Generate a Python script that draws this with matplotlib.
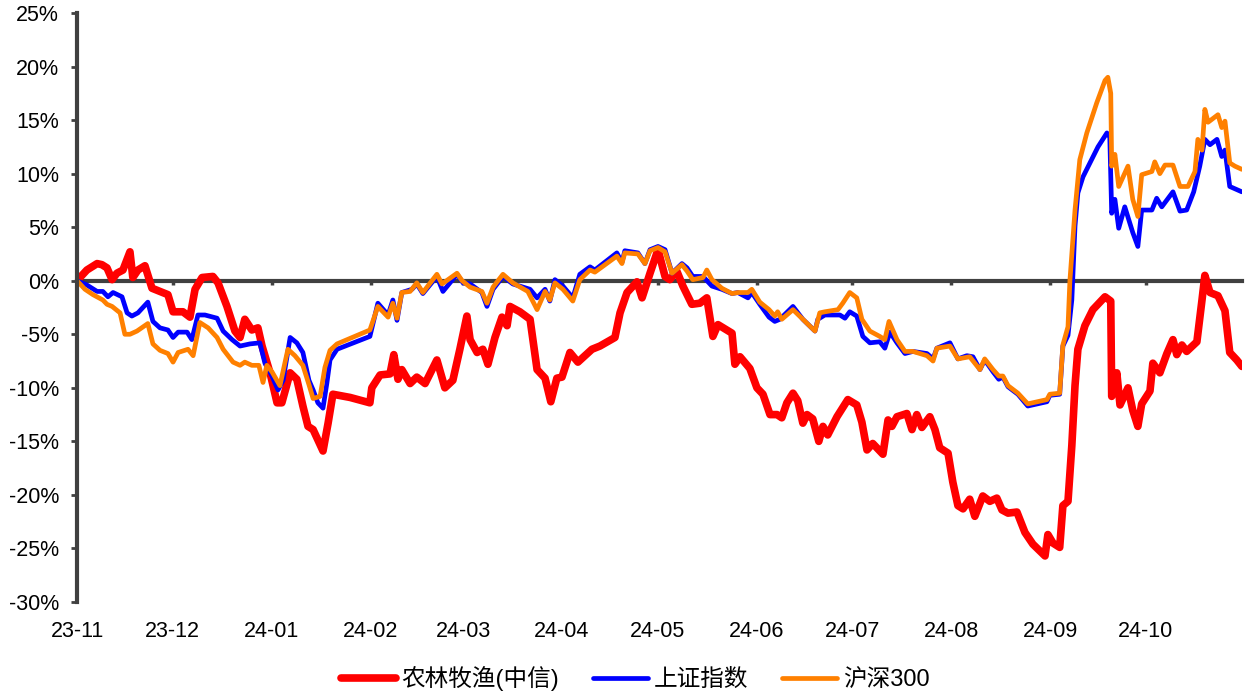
import numpy as np
import matplotlib.pyplot as plt
import matplotlib.dates as mdates
from matplotlib.ticker import FixedLocator, FuncFormatter

# days after 2023-11-01 and cumulative return (%)
red_days = [0.0, 3.1, 6.3, 7.8, 9.4, 11.0, 12.5, 14.4, 16.6, 17.5, 19.1, 21.3, 23.5, 26.0, 28.5,
            30.1, 33.2, 35.4, 37.0, 39.2, 42.6, 44.2, 47.0, 49.5, 51.1, 52.6, 54.8, 56.7, 58.0,
            60.5, 62.7, 64.2, 66.8, 68.9, 70.8, 72.4, 74.0, 77.1, 78.7, 80.2, 85.6, 91.8, 92.4,
            95.0, 98.1, 99.3, 100.6, 101.8, 104.4, 106.5, 109.1, 112.8, 115.3, 117.8, 120.0,
            122.2, 123.2, 125.4, 127.2, 128.8, 131.0, 133.2, 134.8, 135.7, 138.8, 142.0, 144.2,
            146.7, 148.5, 150.4, 152.0, 154.5, 157.0, 161.4, 163.9, 168.6, 170.2, 172.4, 175.5,
            177.1, 179.6, 182.1, 184.3, 185.8, 188.0, 189.9, 192.7, 195.2, 197.4, 199.3, 200.9,
            205.3, 206.2, 207.8, 210.9, 213.1, 215.0, 217.2, 219.4, 220.9, 222.5, 224.4, 225.9,
            227.5, 228.8, 230.6, 232.5, 233.8, 235.3, 238.2, 241.6, 244.4, 246.0, 247.6, 249.4,
            252.6, 254.2, 255.4, 257.0, 260.1, 261.7, 263.2, 264.8, 267.3, 268.9, 270.4, 273.0,
            274.5, 276.1, 277.7, 279.8, 281.4, 283.9, 286.1, 288.3, 289.9, 291.8, 294.6, 297.1,
            299.6, 303.4, 304.3, 305.9, 308.0, 309.0, 310.6, 311.8, 312.8, 313.7, 315.9, 318.4,
            322.2, 324.0, 324.3, 325.9, 326.9, 329.4, 330.9, 332.5, 333.7, 336.3, 337.2, 339.4,
            341.6, 343.5, 344.7, 346.3, 347.8, 351.0, 352.6, 353.5, 355.1, 357.6, 359.8, 361.3,
            363.5, 365.1]
red_vals = [0.0, 1.0, 1.6, 1.5, 1.2, 0.1, 0.7, 1.0, 2.7, 0.3, 1.0, 1.4, -0.7, -1.0, -1.3,
            -2.9, -2.9, -3.4, -0.8, 0.3, 0.4, -0.2, -2.4, -4.7, -5.3, -3.6, -4.6, -4.4, -6.1,
            -8.6, -11.4, -11.4, -8.6, -9.2, -11.7, -13.6, -13.9, -15.9, -13.3, -10.6, -10.9, -11.4, -10.0,
            -8.8, -8.7, -6.9, -9.2, -8.3, -9.6, -9.0, -9.6, -7.4, -10.0, -9.3, -6.4,
            -3.3, -5.5, -6.7, -6.4, -7.8, -5.3, -3.4, -4.2, -2.4, -2.9, -3.6, -8.3,
            -9.1, -11.3, -9.1, -9.0, -6.7, -7.6, -6.4, -6.1, -5.3, -3.0, -1.1, -0.1,
            -1.6, 0.7, 2.9, 0.4, 0.1, 0.9, -0.5, -2.2, -2.1, -1.6, -5.2, -4.1,
            -4.9, -7.8, -7.1, -8.2, -10.0, -10.6, -12.5, -12.5, -12.8, -11.4, -10.5, -11.2,
            -13.3, -12.5, -12.9, -15.0, -13.6, -14.4, -12.7, -11.1, -11.6, -13.2, -15.8, -15.2,
            -16.2, -13.0, -13.6, -12.7, -12.4, -13.9, -12.5, -13.7, -12.7, -13.9, -15.6, -16.1,
            -18.8, -21.0, -21.3, -20.4, -22.0, -20.1, -20.6, -20.3, -21.4, -21.7, -21.6, -23.5,
            -24.6, -25.7, -23.7, -24.5, -24.9, -21.0, -20.6, -15.4, -9.8, -6.4, -4.2, -2.7,
            -1.5, -1.9, -10.8, -8.6, -11.6, -10.0, -12.1, -13.6, -11.5, -10.3, -7.7, -8.6,
            -6.8, -5.5, -6.9, -6.0, -6.6, -5.7, -1.8, 0.5, -1.1, -1.4, -2.8, -6.7,
            -7.4, -8.0]

blue_days = [0.0, 3.1, 6.3, 8.1, 9.7, 11.3, 14.1, 15.7, 17.2, 19.1, 22.2, 23.8, 26.0, 28.5,
             30.1, 31.7, 34.5, 36.0, 37.9, 40.1, 43.9, 45.8, 48.6, 51.1, 54.2, 57.3, 58.9,
             61.1, 63.0, 64.6, 66.8, 68.9, 70.8, 72.7, 74.0, 75.5, 77.1, 78.3, 79.3, 81.5,
             91.8, 94.3, 97.5, 99.0, 100.3, 101.8, 105.0, 106.5, 108.4, 112.8, 114.7, 119.1,
             121.0, 123.2, 126.9, 128.5, 130.4, 133.5, 136.6, 142.0, 144.2, 146.7, 148.2,
             149.8, 152.3, 155.4, 157.6, 160.8, 162.3, 169.2, 170.8, 171.7, 175.8, 178.0,
             179.6, 182.1, 184.3, 186.5, 189.6, 191.2, 193.0, 196.2, 199.0, 202.1, 205.3,
             207.1, 210.3, 211.5, 214.0, 216.9, 218.7, 220.3, 224.4, 227.5, 231.3, 232.2,
             234.4, 239.1, 240.7, 242.2, 244.4, 246.3, 248.5, 251.6, 253.2, 254.8, 257.0,
             259.5, 262.0, 266.4, 268.3, 269.5, 273.6, 276.1, 278.9, 280.8, 283.0, 284.5,
             287.1, 288.9, 290.2, 291.8, 294.9, 298.0, 304.0, 304.9, 308.0, 309.0, 310.6,
             311.8, 312.8, 313.7, 315.3, 317.5, 320.0, 322.8, 323.7, 324.3, 325.3, 326.5,
             328.4, 330.9, 332.5, 333.7, 336.9, 338.4, 340.0, 343.5, 345.7, 347.8, 350.0,
             351.9, 353.5, 355.1, 357.3, 358.8, 359.8, 361.3, 365.1]
blue_vals = [0.0, -0.4, -1.0, -1.0, -1.5, -1.1, -1.5, -3.0, -3.3, -3.0, -2.0, -3.8, -4.4, -4.6,
             -5.3, -4.8, -4.8, -5.5, -3.2, -3.2, -3.5, -4.7, -5.5, -6.1, -5.9, -5.8, -7.7,
             -8.9, -10.2, -9.3, -5.3, -5.8, -6.7, -9.3, -10.2, -11.4, -11.9, -9.6, -7.4, -6.4,
             -5.2, -2.1, -3.2, -1.8, -3.7, -1.1, -0.8, -0.3, -1.2, 0.4, -1.0, 0.6,
             -0.2, -0.3, -1.1, -2.4, -0.8, 0.4, -0.3, -0.8, -1.6, -0.8, -1.9,
             0.1, -0.5, -1.6, 0.6, 1.3, 1.0, 2.6, 1.7, 2.8, 2.6, 1.6,
             2.9, 3.2, 2.9, 0.7, 1.6, 1.2, 0.4, 0.4, -0.5, -0.8, -1.2,
             -1.1, -1.6, -1.1, -2.2, -3.4, -3.8, -3.6, -2.4, -3.6, -4.7, -3.6,
             -3.2, -3.2, -3.5, -2.9, -3.3, -5.2, -5.8, -5.7, -6.3, -4.8, -5.8,
             -6.8, -6.6, -6.8, -7.3, -6.3, -5.8, -7.3, -7.0, -7.1, -8.3, -7.4,
             -8.5, -9.2, -9.0, -9.9, -10.6, -11.7, -11.3, -10.7, -10.6, -6.1, -5.1,
             -1.8, 5.1, 8.2, 9.7, 11.0, 12.5, 13.8, 13.4, 6.3, 7.6, 4.9,
             6.9, 4.5, 3.2, 6.6, 6.6, 7.7, 6.9, 8.3, 6.5, 6.6, 8.3,
             10.7, 13.2, 12.7, 13.2, 11.6, 12.2, 8.8, 8.3]

orange_days = [0.0, 2.5, 5.0, 8.1, 9.4, 11.0, 13.5, 15.0, 16.6, 18.8, 22.2, 23.8, 26.0, 28.5,
               30.1, 31.7, 34.8, 36.4, 38.5, 41.1, 43.9, 45.8, 48.9, 51.1, 52.6, 54.8, 57.0,
               58.3, 59.5, 61.1, 63.6, 66.1, 68.3, 70.8, 72.7, 74.0, 76.2, 77.7, 79.3, 81.5,
               91.8, 94.3, 97.5, 99.0, 100.3, 101.8, 104.4, 106.5, 108.4, 112.8, 114.4, 119.1,
               120.7, 123.2, 126.9, 128.5, 130.4, 133.5, 136.6, 141.3, 144.2, 146.7, 148.2,
               149.8, 152.3, 155.4, 157.6, 160.8, 162.3, 169.2, 170.8, 171.7, 175.8, 178.0,
               179.6, 182.1, 184.3, 186.5, 189.6, 191.2, 193.0, 196.2, 197.4, 199.0, 202.1,
               205.3, 207.1, 210.3, 211.5, 214.0, 216.9, 218.7, 219.6, 220.9, 224.4, 227.5,
               231.3, 232.8, 234.4, 238.5, 240.0, 242.2, 244.4, 246.0, 248.5, 251.6, 253.2,
               254.5, 257.0, 259.5, 262.0, 266.4, 268.3, 269.5, 273.6, 276.1, 279.8, 283.0,
               284.5, 287.1, 288.9, 290.2, 291.8, 294.9, 298.0, 304.0, 304.9, 308.0, 309.0,
               310.6, 311.2, 312.8, 314.3, 316.5, 319.6, 322.2, 323.1, 324.0, 324.3, 325.3,
               326.5, 329.4, 330.9, 332.5, 333.7, 336.9, 337.8, 339.4, 341.0, 343.5, 345.7,
               348.2, 350.4, 351.3, 352.6, 353.5, 354.5, 357.6, 358.8, 359.8, 361.3, 362.9,
               365.1]
orange_vals = [0.0, -0.8, -1.3, -1.8, -2.2, -2.4, -3.0, -5.0, -5.0, -4.7, -4.0, -5.9, -6.5, -6.8,
               -7.6, -6.7, -6.4, -7.0, -3.9, -4.4, -5.3, -6.4, -7.6, -7.9, -7.6, -7.9, -7.9,
               -9.5, -7.9, -8.5, -9.8, -6.4, -7.0, -7.9, -9.7, -11.0, -10.8, -8.1, -6.5, -5.9,
               -4.6, -2.4, -3.4, -2.1, -3.5, -1.1, -1.0, -0.2, -1.1, 0.6, -0.3, 0.7,
               0.0, -0.6, -1.0, -2.1, -0.6, 0.6, -0.2, -1.0, -2.7, -1.0, -1.8,
               -0.2, -0.8, -1.9, 0.1, 1.0, 0.8, 2.3, 1.6, 2.6, 2.5, 1.6,
               2.8, 3.1, 2.7, 0.7, 1.5, 0.9, 0.1, 0.3, 1.0, 0.1, -0.7,
               -1.2, -1.1, -1.1, -0.8, -2.0, -2.7, -3.3, -2.9, -3.6, -2.7, -3.6,
               -4.7, -3.0, -2.9, -2.7, -2.1, -1.1, -1.6, -3.6, -4.7, -5.2, -5.5,
               -3.8, -5.5, -6.6, -6.6, -7.0, -7.5, -6.3, -6.1, -7.3, -7.1, -8.3,
               -7.3, -8.3, -8.9, -8.9, -9.8, -10.5, -11.5, -11.1, -10.6, -10.5, -6.0,
               -4.3, 0.0, 6.6, 11.3, 13.8, 16.6, 18.7, 19.0, 17.5, 10.7, 11.8,
               8.8, 10.7, 7.6, 6.0, 9.9, 10.2, 11.1, 10.0, 10.8, 10.8, 8.8,
               8.8, 10.2, 13.2, 12.2, 16.0, 14.8, 15.5, 14.3, 14.9, 11.0, 10.7,
               10.4]

series_names = ['农林牧渔(中信)', '上证指数', '沪深300']
y_ticks = [-30, -25, -20, -15, -10, -5, 0, 5, 10, 15, 20, 25]
start = np.datetime64('2023-11-01T00:00')
month_ticks = np.arange('2023-11', '2024-11', dtype='datetime64[M]')


def to_dates(days):
    return start + (np.array(days) * 24 * 60).round().astype('timedelta64[m]')


axis_color = '#404040'
plt.rcParams['font.family'] = ['Liberation Sans', 'Noto Sans CJK SC']

fig = plt.figure(figsize=(12.48, 6.93), dpi=100)
ax = fig.add_axes([77 / 1248, 1 - 602 / 693, (1242 - 77) / 1248, (602 - 13) / 693])

ax.plot(to_dates(red_days), red_vals, color='#ff0000', lw=5.5, label=series_names[0],
        zorder=3, solid_joinstyle='round', solid_capstyle='round')
ax.plot(to_dates(blue_days), blue_vals, color='#0000ff', lw=3.4, label=series_names[1],
        zorder=3.1, solid_joinstyle='round', solid_capstyle='round')
ax.plot(to_dates(orange_days), orange_vals, color='#ff8000', lw=3.4, label=series_names[2],
        zorder=3.2, solid_joinstyle='round', solid_capstyle='round')

ax.set_ylim(-30, 25)
ax.set_xlim(start, start + np.timedelta64(365 * 24 * 60 + 200, 'm'))
ax.yaxis.set_major_locator(FixedLocator(y_ticks))
ax.yaxis.set_major_formatter(FuncFormatter(lambda v, p: f'{v:.0f}%'))
ax.set_xticks(mdates.date2num(month_ticks.astype('datetime64[D]')))
ax.xaxis.set_major_formatter(mdates.DateFormatter('%y-%m'))

for side in ['top', 'right']:
    ax.spines[side].set_visible(False)
ax.spines['left'].set_color(axis_color)
ax.spines['left'].set_linewidth(3)
ax.spines['bottom'].set_position(('data', 0))
ax.spines['bottom'].set_color(axis_color)
ax.spines['bottom'].set_linewidth(3)
ax.spines['left'].set_zorder(4)
ax.spines['bottom'].set_zorder(2.5)

ax.tick_params(axis='y', direction='out', length=4, width=2, color=axis_color,
               labelsize=15.5, pad=9, labelcolor='black')
ax.tick_params(axis='x', direction='out', length=3, width=2.5, color=axis_color,
               labelsize=15.5, pad=242, labelcolor='black')

fig.legend(loc='center', bbox_to_anchor=(0.509, 0.021), ncol=3, frameon=False,
           fontsize=17, handlelength=2.3, handletextpad=0.25, columnspacing=1.45)

fig.savefig('out.png', dpi=100)
